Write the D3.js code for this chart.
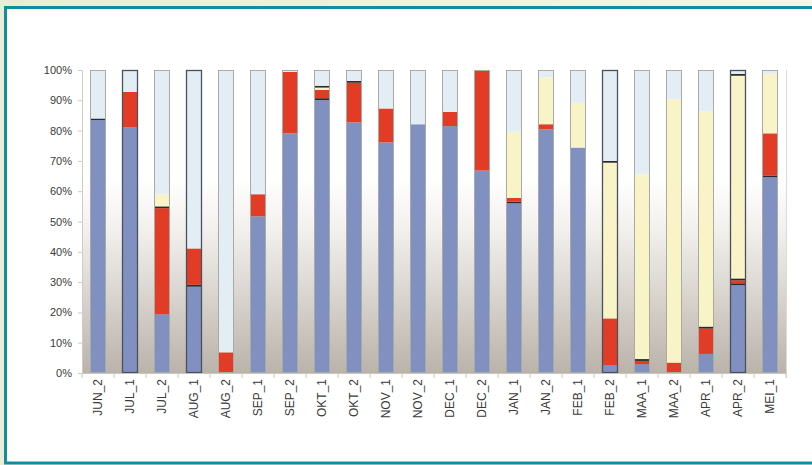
<!DOCTYPE html>
<html><head><meta charset="utf-8">
<script src="https://cdn.jsdelivr.net/npm/d3@7"></script>
<style>html,body{margin:0;padding:0;background:#fff;}svg{display:block;}</style>
</head><body>
<script>
const categories = ["JUN_2","JUL_1","JUL_2","AUG_1","AUG_2","SEP_1","SEP_2","OKT_1","OKT_2","NOV_1","NOV_2","DEC_1","DEC_2","JAN_1","JAN_2","FEB_1","FEB_2","MAA_1","MAA_2","APR_1","APR_2","MEI_1"];
const blueVals   = [83.5,81.0,19.4,28.5,0,51.7,79.1,90.1,82.7,76.1,82.1,81.5,66.8,56.0,80.4,74.4,2.6,2.9,0,6.3,29.0,64.6];
const sepA       = [0.5,0,0,0.6,0,0,0,0.6,0,0,0,0,0,0.5,0,0,0,0,0,0,0.6,0.6];
const redVals    = [0,11.8,35.0,12.0,6.8,7.3,20.3,2.7,13.1,11.2,0,4.7,33.2,1.3,1.7,0,15.4,1.1,3.4,8.4,1.0,13.9];
const sepB       = [0,0,0.6,0,0,0,0,0,0,0,0,0,0,0,0,0,0,0.6,0,0.6,0.6,0];
const yellowVals = [0,0,4.0,0,0,0,0,0.8,0,0,0,0,0,21.8,15.4,14.8,51.4,61.0,87.0,71.0,66.9,19.6];
const sepC       = [0,0,0,0,0,0,0,0.6,0.6,0,0,0,0,0,0,0,0.6,0,0,0,0.6,0];
const lightVals  = [16.0,7.2,41.0,58.9,93.2,41.0,0.6,5.2,3.6,12.7,17.9,13.8,0,20.4,2.5,10.8,30.0,34.4,9.6,13.7,1.3,1.3];
const outlinedBars = ["JUL_1","AUG_1","FEB_2","APR_2"];
const yTicks = [0,10,20,30,40,50,60,70,80,90,100];

const seriesKeys = ["blue","sepA","red","sepB","yellow","sepC","light"];
const seriesArrays = {blue:blueVals,sepA:sepA,red:redVals,sepB:sepB,yellow:yellowVals,sepC:sepC,light:lightVals};
const colors = {blue:"#8090c0",sepA:"#2b2b2b",red:"#e23c27",sepB:"#2b2b2b",yellow:"#f9f4c8",sepC:"#2b2b2b",light:"#e3eef4"};

const W = 812, H = 465;
const svg = d3.select("body").append("svg").attr("width", W).attr("height", H);
const defs = svg.append("defs");
const bgGrad = defs.append("linearGradient").attr("id","bg").attr("x1",0).attr("x2",1).attr("y1",0).attr("y2",0);
bgGrad.append("stop").attr("offset","0%").attr("stop-color","#ebecd6");
bgGrad.append("stop").attr("offset","100%").attr("stop-color","#f6f4ec");
const plotGrad = defs.append("linearGradient").attr("id","pg").attr("x1",0).attr("x2",0).attr("y1",0).attr("y2",1);
plotGrad.append("stop").attr("offset","0%").attr("stop-color","#ffffff");
plotGrad.append("stop").attr("offset","25%").attr("stop-color","#f3f1ee");
plotGrad.append("stop").attr("offset","100%").attr("stop-color","#bbb3aa");

svg.append("rect").attr("width",W).attr("height",H).attr("fill","url(#bg)");
svg.append("rect").attr("x",5.5).attr("y",7.5).attr("width",W).attr("height",455.5)
  .attr("fill","#fff").attr("stroke","#128ca3").attr("stroke-width",3);

const margin = {left:82, right:26, top:70, bottom:92};
const x = d3.scaleBand().domain(categories).range([margin.left, W - margin.right]).paddingInner(0.5).paddingOuter(0.25);
const y = d3.scaleLinear().domain([0,100]).range([H - margin.bottom, margin.top]);

svg.append("rect").attr("x", margin.left).attr("y", y(64)).attr("width", (W - margin.right) - margin.left)
  .attr("height", y(0) - y(64)).attr("fill","url(#pg)");

const rows = categories.map((c,i) => {
  const r = {cat:c};
  seriesKeys.forEach(k => r[k] = seriesArrays[k][i]);
  return r;
});
const stacked = d3.stack().keys(seriesKeys)(rows);

const g = svg.append("g");
g.selectAll("g.series").data(stacked).join("g").attr("fill", d => colors[d.key])
  .selectAll("rect").data(d => d).join("rect")
  .attr("x", d => x(d.data.cat)).attr("width", x.bandwidth())
  .attr("y", d => y(d[1])).attr("height", d => Math.max(0, y(d[0]) - y(d[1])));

g.selectAll("rect.outline").data(rows).join("rect").attr("class","outline")
  .attr("x", d => x(d.cat) + 0.5).attr("width", x.bandwidth() - 1)
  .attr("y", d => y(d3.sum(seriesKeys, k => d[k])) + 0.5)
  .attr("height", d => y(0) - y(d3.sum(seriesKeys, k => d[k])) - 1)
  .attr("fill","none")
  .attr("stroke", d => outlinedBars.includes(d.cat) ? "#4a505c" : "#aaa9a6")
  .attr("stroke-width", d => outlinedBars.includes(d.cat) ? 1.3 : 1);

svg.append("line").attr("x1", W - margin.right + 0.5).attr("x2", W - margin.right + 0.5)
  .attr("y1", y(100)).attr("y2", y(0) + 5).attr("stroke","#dcdad6");

const yAxis = svg.append("g").attr("transform",`translate(${margin.left},0)`)
  .call(d3.axisLeft(y).tickValues(yTicks).tickFormat(d => d + "%").tickSize(4).tickPadding(6));
yAxis.select(".domain").attr("stroke","#cfccc8");
yAxis.selectAll(".tick line").attr("stroke","#cfccc8");
yAxis.selectAll("text").attr("font-family","Arial, 'Liberation Sans', sans-serif").attr("font-size",11).attr("fill","#3a3a3a");

const xAxis = svg.append("g").attr("transform",`translate(0,${y(0)})`)
  .call(d3.axisBottom(x).tickSize(0).tickPadding(6));
xAxis.select(".domain").attr("stroke","#c9c6c2");
xAxis.selectAll("text").attr("font-family","Arial, 'Liberation Sans', sans-serif").attr("font-size",12).attr("fill","#3a3a3a")
  .attr("text-anchor","end").attr("transform","rotate(-90)").attr("x",-6).attr("y",0).attr("dy","0.35em");
const step = x.step();
const bounds = categories.map(c => x(c) - (step - x.bandwidth())/2).concat([x(categories[categories.length-1]) + x.bandwidth() + (step - x.bandwidth())/2]);
xAxis.selectAll("line.sep").data(bounds).join("line").attr("class","sep")
  .attr("x1", d => d).attr("x2", d => d).attr("y1", 0).attr("y2", 5).attr("stroke","#c9c6c2");
</script>
</body></html>
